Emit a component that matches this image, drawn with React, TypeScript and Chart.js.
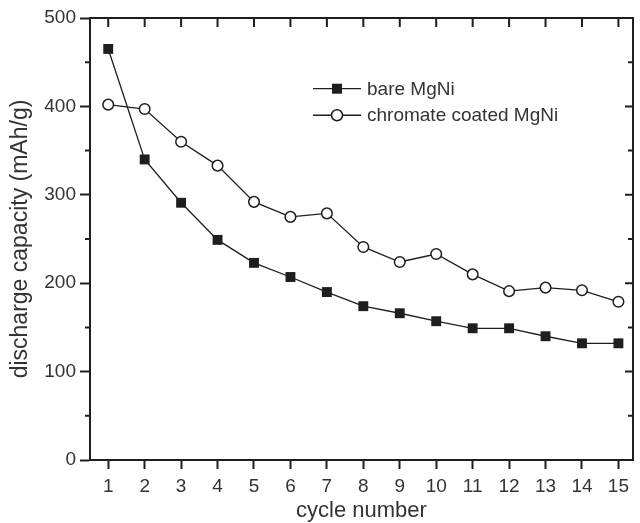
import React, { useEffect, useRef } from "react";
import { Chart, registerables } from "chart.js";

Chart.register(...registerables);

const cycles = [1, 2, 3, 4, 5, 6, 7, 8, 9, 10, 11, 12, 13, 14, 15];
const bareMgNi = [465, 340, 291, 249, 223, 207, 190, 174, 166, 157, 149, 149, 140, 132, 132];
const coatedMgNi = [402, 397, 360, 333, 292, 275, 279, 241, 224, 233, 210, 191, 195, 192, 179];
const seriesNames = ["bare MgNi", "chromate coated MgNi"];
const yMajorTicks = [0, 100, 200, 300, 400, 500];
const yMinorTicks = [50, 150, 250, 350, 450];
const xTitle = "cycle number";
const yTitle = "discharge capacity (mAh/g)";

const INK = "#1e1e1e";
const TEXT = "#333333";
const FONT = "'Liberation Sans', Arial, Helvetica, sans-serif";

const framePlugin = {
  id: "frame",
  afterDraw(chart: any) {
    const { ctx, chartArea } = chart;
    const xs = chart.scales.x;
    const ys = chart.scales.y;
    const { left, right, top, bottom } = chartArea;
    ctx.save();
    ctx.strokeStyle = INK;
    ctx.lineWidth = 2;
    ctx.beginPath();
    ctx.moveTo(left - 1, top);
    ctx.lineTo(right, top);
    ctx.lineTo(right, bottom + 1);
    ctx.stroke();
    ctx.beginPath();
    for (const c of cycles) {
      const px = xs.getPixelForValue(c);
      ctx.moveTo(px, top);
      ctx.lineTo(px, top + 9);
    }
    for (const v of yMajorTicks) {
      const py = ys.getPixelForValue(v);
      ctx.moveTo(right, py);
      ctx.lineTo(right - 8, py);
    }
    for (const v of yMinorTicks) {
      const py = ys.getPixelForValue(v);
      ctx.moveTo(right, py);
      ctx.lineTo(right - 5, py);
      ctx.moveTo(left, py);
      ctx.lineTo(left - 5, py);
    }
    ctx.stroke();

    const rows = [
      { name: seriesNames[0], style: "rect" },
      { name: seriesNames[1], style: "circle" },
    ];
    const lx0 = left + 223;
    const lx1 = left + 271;
    const mx = (lx0 + lx1) / 2;
    const rowY = [ys.getPixelForValue(420), ys.getPixelForValue(390)];
    ctx.font = `19px ${FONT}`;
    ctx.textBaseline = "middle";
    ctx.textAlign = "left";
    rows.forEach((r, i) => {
      const y = rowY[i];
      ctx.lineWidth = 1.3;
      ctx.strokeStyle = INK;
      ctx.beginPath();
      ctx.moveTo(lx0, y);
      ctx.lineTo(lx1, y);
      ctx.stroke();
      if (r.style === "rect") {
        ctx.fillStyle = INK;
        ctx.fillRect(mx - 5, y - 5, 10, 10);
      } else {
        ctx.fillStyle = "#fff";
        ctx.lineWidth = 1.5;
        ctx.beginPath();
        ctx.arc(mx, y, 5.5, 0, Math.PI * 2);
        ctx.fill();
        ctx.stroke();
      }
      ctx.fillStyle = TEXT;
      ctx.fillText(r.name, lx1 + 6, y + 1);
    });
    ctx.restore();
  },
};

export default function App() {
  const ref = useRef<HTMLCanvasElement | null>(null);
  useEffect(() => {
    if (!ref.current) return;
    const chart = new Chart(ref.current, {
      type: "line",
      data: {
        datasets: [
          {
            label: seriesNames[0],
            data: cycles.map((c, i) => ({ x: c, y: bareMgNi[i] })),
            borderColor: INK,
            borderWidth: 1.3,
            backgroundColor: INK,
            pointStyle: "rect",
            pointRadius: 7,
            pointBorderWidth: 0,
            pointBackgroundColor: INK,
            tension: 0,
            clip: false,
          },
          {
            label: seriesNames[1],
            data: cycles.map((c, i) => ({ x: c, y: coatedMgNi[i] })),
            borderColor: INK,
            borderWidth: 1.3,
            pointStyle: "circle",
            pointRadius: 5.3,
            pointBorderWidth: 1.5,
            pointBackgroundColor: "#ffffff",
            pointBorderColor: INK,
            tension: 0,
            clip: false,
          },
        ],
      },
      options: {
        animation: false,
        responsive: false,
        maintainAspectRatio: false,
        layout: { padding: { left: 0, right: 3, top: 18, bottom: 0 } },
        plugins: {
          legend: { display: false },
          tooltip: { enabled: false },
        },
        scales: {
          x: {
            type: "linear",
            min: 0.5,
            max: 15.4,
            afterBuildTicks: (scale: any) => {
              scale.ticks = cycles.map((c) => ({ value: c }));
            },
            afterFit: (scale: any) => {
              scale.height = 63;
            },
            grid: {
              drawOnChartArea: false,
              drawTicks: true,
              tickLength: 9,
              tickWidth: 2,
              tickColor: INK,
            },
            border: { display: true, color: INK, width: 2 },
            ticks: {
              color: TEXT,
              font: { family: FONT, size: 19 },
              padding: 6,
              maxRotation: 0,
              autoSkip: false,
            },
            title: {
              display: true,
              text: xTitle,
              color: TEXT,
              font: { family: FONT, size: 22, lineHeight: 1.0 },
              padding: { top: 0, bottom: 1 },
            },
          },
          y: {
            min: 0,
            max: 500,
            afterBuildTicks: (scale: any) => {
              scale.ticks = yMajorTicks.map((v) => ({ value: v }));
            },
            afterFit: (scale: any) => {
              scale.width = 90;
            },
            grid: {
              drawOnChartArea: false,
              drawTicks: true,
              tickLength: 10,
              tickWidth: 2,
              tickColor: INK,
            },
            border: { display: true, color: INK, width: 2 },
            ticks: {
              color: TEXT,
              font: { family: FONT, size: 19 },
              padding: 4,
            },
            title: {
              display: true,
              text: yTitle,
              color: TEXT,
              font: { family: FONT, size: 23, lineHeight: 1.0 },
              padding: { top: 9, bottom: 0 },
            },
          },
        },
      },
      plugins: [framePlugin],
    });
    return () => chart.destroy();
  }, []);
  return (
    <div style={{ position: "fixed", left: 0, top: 0, width: 640, height: 523, background: "#fff" }}>
      <canvas ref={ref} width={640} height={523} style={{ width: 640, height: 523, display: "block" }} />
    </div>
  );
}
